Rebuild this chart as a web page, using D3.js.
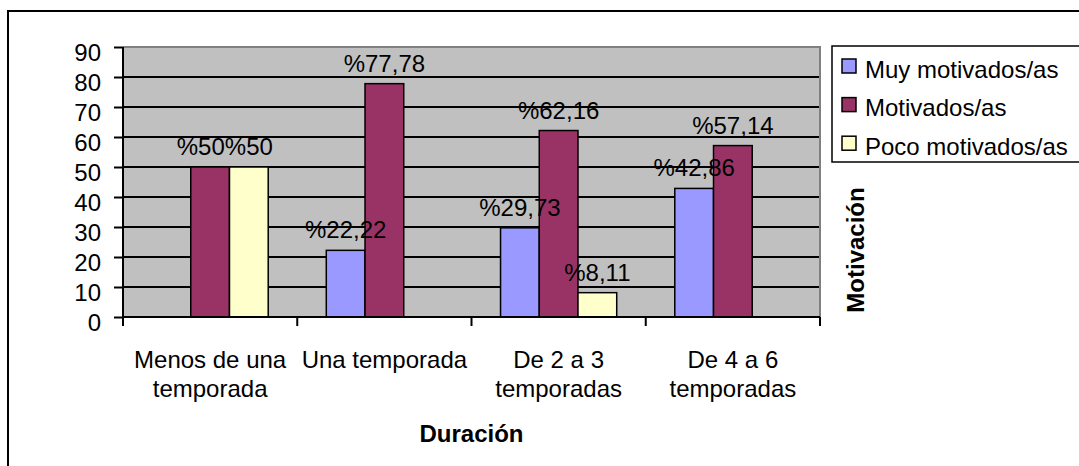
<!DOCTYPE html>
<html>
<head>
<meta charset="utf-8">
<script src="https://cdn.jsdelivr.net/npm/d3@7"></script>
<style>
  html, body { margin: 0; padding: 0; background: #fff; }
  svg { display: block; }
  text { font-family: "Liberation Sans", Arial, sans-serif; fill: #000; }
</style>
</head>
<body>
<svg id="chart" width="1079" height="466"></svg>
<script>
// ---- data ----
const categories = ["Menos de una\ntemporada", "Una temporada", "De 2 a 3\ntemporadas", "De 4 a 6\ntemporadas"];
const seriesNames = ["Muy motivados/as", "Motivados/as", "Poco motivados/as"];
const muyMotivados = [null, 22.22, 29.73, 42.86];
const motivados = [50, 77.78, 62.16, 57.14];
const pocoMotivados = [50, null, 8.11, null];
const yTicks = [0, 10, 20, 30, 40, 50, 60, 70, 80, 90];
const seriesColors = ["#9999FF", "#993366", "#FFFFCC"];
const xTitle = "Duración";
const yTitle = "Motivación";

const seriesValues = [muyMotivados, motivados, pocoMotivados];

// ---- layout ----
const svg = d3.select("#chart");
const W = 1079, H = 466;
const plot = { left: 123, right: 820, top: 47, bottom: 317 };
const font = 24;

svg.append("rect").attr("width", W).attr("height", H).attr("fill", "#fff");
// outer chart border
svg.append("rect").attr("x", 8).attr("y", 11).attr("width", 1100).attr("height", 500)
  .attr("fill", "none").attr("stroke", "#000").attr("stroke-width", 2);

const x = d3.scaleBand().domain(categories).range([plot.left, plot.right]).paddingInner(0).paddingOuter(0);
const xs = d3.scaleBand().domain(seriesNames).range([0, x.bandwidth()]).paddingInner(0).paddingOuter(0.75);
const y = d3.scaleLinear().domain([0, 90]).range([plot.bottom, plot.top]);
const color = d3.scaleOrdinal().domain(seriesNames).range(seriesColors);

// plot background
svg.append("rect").attr("x", plot.left).attr("y", plot.top)
  .attr("width", plot.right - plot.left).attr("height", plot.bottom - plot.top)
  .attr("fill", "#C0C0C0");

// gridlines
svg.append("g").selectAll("line").data(yTicks.filter(t => t > 0 && t < 90)).join("line")
  .attr("x1", plot.left).attr("x2", plot.right)
  .attr("y1", d => y(d)).attr("y2", d => y(d))
  .attr("stroke", "#000").attr("stroke-width", 2);

// plot border top/right (gray)
svg.append("path")
  .attr("d", `M${plot.left},${plot.top}H${plot.right}V${plot.bottom}`)
  .attr("fill", "none").attr("stroke", "#808080").attr("stroke-width", 2);

// bars
const barData = [];
categories.forEach((c, ci) => {
  seriesNames.forEach((s, si) => {
    const v = seriesValues[si][ci];
    if (v !== null && v !== undefined) barData.push({ c, s, v, ci, si });
  });
});

svg.append("g").selectAll("rect").data(barData).join("rect")
  .attr("x", d => x(d.c) + xs(d.s))
  .attr("y", d => y(d.v))
  .attr("width", xs.bandwidth())
  .attr("height", d => y(0) - y(d.v))
  .attr("fill", d => color(d.s))
  .attr("stroke", "#000").attr("stroke-width", 1.5);

// axes
const yAxis = d3.axisLeft(y).tickValues(yTicks).tickSize(9).tickFormat(d3.format("d"));
const gy = svg.append("g").attr("transform", `translate(${plot.left},0)`).call(yAxis);
gy.select(".domain").attr("stroke", "#000").attr("stroke-width", 2).attr("d", `M0,${plot.top}V${plot.bottom}`);
gy.selectAll(".tick line").attr("stroke", "#000").attr("stroke-width", 2);
gy.selectAll(".tick text").attr("x", -22).attr("dy", null).attr("y", 13.5)
  .style("font-family", '"Liberation Sans", Arial, sans-serif').style("font-size", font + "px").attr("fill", "#000");

const boundaries = categories.map(c => x(c)).concat([plot.right]);
const gx = svg.append("g");
gx.append("line").attr("x1", plot.left).attr("x2", plot.right).attr("y1", plot.bottom).attr("y2", plot.bottom)
  .attr("stroke", "#000").attr("stroke-width", 2);
gx.selectAll("line.tk").data(boundaries).join("line").attr("class", "tk")
  .attr("x1", d => d).attr("x2", d => d).attr("y1", plot.bottom).attr("y2", plot.bottom + 9)
  .attr("stroke", "#000").attr("stroke-width", 2);
const xl = gx.selectAll("text.cat").data(categories).join("text").attr("class", "cat")
  .attr("text-anchor", "middle").style("font-size", font + "px");
xl.each(function (d) {
  const t = d3.select(this);
  d.split("\n").forEach((line, i) => {
    t.append("tspan").attr("x", x(d) + x.bandwidth() / 2).attr("y", 368 + i * 29).text(line);
  });
});

// axis titles
svg.append("text").attr("x", (plot.left + plot.right) / 2).attr("y", 442)
  .attr("text-anchor", "middle").style("font-size", font + "px").style("font-weight", "bold").text(xTitle);
svg.append("text").attr("transform", "translate(864,250) rotate(-90)")
  .attr("text-anchor", "middle").style("font-size", font + "px").style("font-weight", "bold").text(yTitle);

// data labels
const fmt = v => "%" + String(v).replace(".", ",");
const labels = svg.append("g").selectAll("text").data(barData).join("text")
  .attr("x", d => x(d.c) + xs(d.s) + xs.bandwidth() / 2)
  .attr("y", d => y(d.v) - 12)
  .attr("text-anchor", "middle").style("font-size", font + "px")
  .text(d => fmt(d.v));
// simple collision avoidance: shift a label left if it overlaps the next label in same category at same height
const nodes = labels.nodes();
for (let i = nodes.length - 2; i >= 0; i--) {
  const a = d3.select(nodes[i]).datum(), b = d3.select(nodes[i + 1]).datum();
  if (a.ci !== b.ci || Math.abs(a.v - b.v) > 3) continue;
  const ba = nodes[i].getBBox(), bb = nodes[i + 1].getBBox();
  const overlap = ba.x + ba.width - bb.x;
  if (overlap > 0) d3.select(nodes[i]).attr("x", +d3.select(nodes[i]).attr("x") - overlap);
}

// legend
const lg = svg.append("g");
lg.append("rect").attr("x", 832).attr("y", 46).attr("width", 260).attr("height", 116)
  .attr("fill", "#fff").attr("stroke", "#000").attr("stroke-width", 1.5);
const li = lg.selectAll("g.item").data(seriesNames).join("g").attr("class", "item")
  .attr("transform", (d, i) => `translate(842,${66 + i * 38.6})`);
li.append("rect").attr("x", 0).attr("y", -7).attr("width", 14).attr("height", 14)
  .attr("fill", d => color(d)).attr("stroke", "#000").attr("stroke-width", 1.5);
li.append("text").attr("x", 23).attr("y", 11.5).style("font-size", font + "px").text(d => d);
</script>
</body>
</html>
